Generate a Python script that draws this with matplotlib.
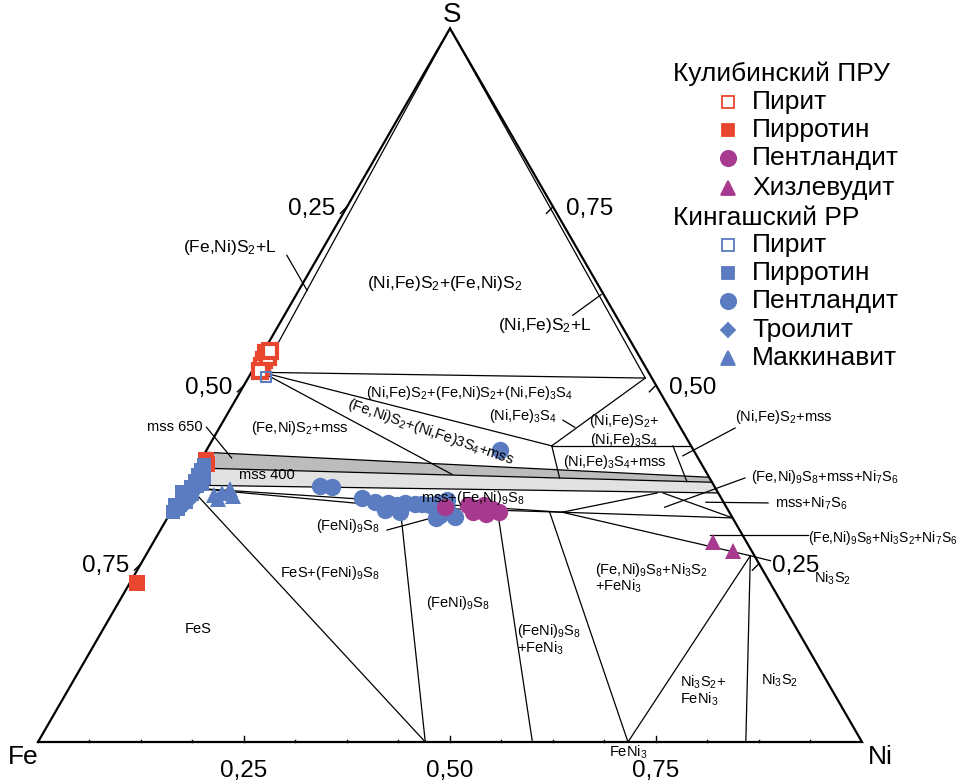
import matplotlib
matplotlib.use("Agg")
import matplotlib.pyplot as plt
import numpy as np

plt.rcParams['font.family'] = ['Liberation Sans', 'DejaVu Sans']
plt.rcParams['mathtext.default'] = 'regular'

H = np.sqrt(3) / 2

# phase boundaries: (Ni fractions, S fractions)
s2_left = ([0.013, 0.0], [0.518, 1.0])
s2_right = ([0.482, 0.0], [0.510, 1.0])
s2_tie = ([0.013, 0.482], [0.518, 0.510])
s2_vio = ([0.013, 0.416], [0.518, 0.415])
s2_mss = ([0.013, 0.315], [0.518, 0.375])
vio_ni = ([0.416, 0.482], [0.415, 0.510])
vio_edge = ([0.416, 0.585], [0.415, 0.415])
vio_mss = ([0.416, 0.448], [0.415, 0.370])
nis2_mss = ([0.563, 0.605], [0.415, 0.365])
fes_pn = ([0.007, 0.470], [0.356, 0.0])
pn_low = ([0.007, 0.275, 0.475], [0.356, 0.329, 0.322])
pn_up = ([0.007, 0.475], [0.356, 0.322])
pn_a = ([0.275, 0.470], [0.329, 0.0])
pn_b = ([0.395, 0.600], [0.325, 0.0])
pn_c = ([0.460, 0.716], [0.322, 0.0])
hz_a = ([0.716, 0.734], [0.0, 0.261])
hz_b = ([0.734, 0.859], [0.261, 0.0])
pn_hz = ([0.475, 0.734, 0.762], [0.322, 0.261, 0.254])
pn_edge = ([0.475, 0.686], [0.322, 0.314])
pn_mss = ([0.475, 0.577], [0.322, 0.349])
mss_ni7 = ([0.584, 0.686], [0.349, 0.314])

# mss fields
mss650_top = ([0.0, 0.629], [0.406, 0.371])
mss400_top = ([0.0, 0.636], [0.384, 0.364])
mss_bottom = ([0.0, 0.651], [0.360, 0.349])

# Кулибинский ПРУ
kul_py_ni = [0.004, 0.007, 0.008, 0.009, 0.008, 0.010]
kul_py_s = [0.545, 0.535, 0.527, 0.540, 0.548, 0.520]
kul_po_ni = [0.006, 0.010, 0.009]
kul_po_s = [0.395, 0.390, 0.223]
kul_pn_ni = [0.329, 0.356, 0.368, 0.375, 0.388, 0.398, 0.384, 0.367]
kul_pn_s = [0.329, 0.332, 0.328, 0.332, 0.327, 0.322, 0.320, 0.322]
kul_hz_ni = [0.679, 0.710]
kul_hz_s = [0.280, 0.268]

# Кингашский РР
kin_py_ni = [0.021]
kin_py_s = [0.512]
kin_po_ni = [0.006, 0.007, 0.008, 0.007, 0.008, 0.007, 0.007, 0.007, 0.006, 0.012, 0.013, 0.014,
	0.000, 0.000, 0.016, 0.018, 0.003, 0.010]
kin_po_s = [0.332, 0.341, 0.349, 0.357, 0.366, 0.374, 0.381, 0.388, 0.327, 0.336, 0.348, 0.359,
	0.332, 0.350, 0.370, 0.362, 0.322, 0.378]
kin_pn_ni = [0.163, 0.178, 0.222, 0.241, 0.257, 0.270, 0.278, 0.290, 0.299, 0.310, 0.318,
	0.259, 0.278, 0.329, 0.336, 0.348, 0.326, 0.356, 0.327]
kin_pn_s = [0.359, 0.357, 0.342, 0.336, 0.335, 0.332, 0.335, 0.334, 0.334, 0.332, 0.335,
	0.325, 0.322, 0.318, 0.324, 0.315, 0.314, 0.409, 0.339]
kin_tr_ni = [0.015, 0.015, 0.011]
kin_tr_s = [0.339, 0.353, 0.329]
kin_mk_ni = [0.041, 0.049, 0.056, 0.064, 0.048]
kin_mk_s = [0.346, 0.349, 0.355, 0.345, 0.341]

RED = '#e8462e'
PINK = '#a7398f'
BLUE = '#5b7cc0'


def tern(ni, s):
	ni = np.asarray(ni, dtype=float)
	s = np.asarray(s, dtype=float)
	return ni + s / 2, s * H


def main():
	fig = plt.figure(figsize=(9.65, 7.83), dpi=100)
	ax = fig.add_axes([0, 0, 1, 1])
	ax.set_xlim(-38 / 824, 927 / 824)
	ax.set_ylim(-41 / 824, 742 / 824)
	ax.axis('off')

	# mss bands
	for top, col in [(mss650_top, '#bcbcbc'), (mss400_top, '#e2e2e2')]:
		ni = list(top[0]) + list(mss_bottom[0])[::-1]
		s = list(top[1]) + list(mss_bottom[1])[::-1]
		x, y = tern(ni, s)
		ax.fill(x, y, color=col, lw=0, zorder=1)
	for line in [mss650_top, mss400_top, mss_bottom]:
		x, y = tern(*line)
		ax.plot(x, y, color='black', lw=0.9, zorder=2)

	lines = [s2_left, s2_right, s2_tie, s2_vio, s2_mss, vio_ni, vio_edge, vio_mss, nis2_mss,
		fes_pn, pn_low, pn_up, pn_a, pn_b, pn_c, hz_a, hz_b, pn_hz, pn_edge, pn_mss, mss_ni7]
	for line in lines:
		x, y = tern(*line)
		ax.plot(x, y, color='black', lw=0.9, zorder=2)

	# triangle frame
	x, y = tern([0, 1, 0, 0], [0, 0, 1, 0])
	ax.plot(x, y, color='black', lw=1.6, zorder=2, solid_joinstyle='miter')

	# ticks
	for k in range(1, 16):
		f = k / 16
		ln = 0.007 if k % 4 == 0 else 0.003
		ax.plot([f, f], [0, ln], color='black', lw=1, zorder=2)
	for s in [0.25, 0.5, 0.75]:
		xl, yl = tern(0, s)
		ax.plot([xl - 0.008, xl], [yl - 0.008, yl], color='black', lw=1, zorder=2)
		ax.text(xl - 0.043, yl - 0.003, ('%.2f' % (1 - s)).replace('.', ','), fontsize=17.5,
			ha='center', va='center')
		xr, yr = tern(1 - s, s)
		ax.plot([xr - 0.008, xr], [yr - 0.008, yr], color='black', lw=1, zorder=2)
		ax.text(xr + 0.045, yr - 0.003, ('%.2f' % s).replace('.', ','), fontsize=17.5,
			ha='center', va='center')
		ax.text(s, -0.035, ('%.2f' % s).replace('.', ','), fontsize=17.5, ha='center', va='center')

	ax.text(0.5024, 0.882, 'S', fontsize=20, ha='center', va='center')
	ax.text(-0.018, -0.018, 'Fe', fontsize=19, ha='center', va='center')
	ax.text(1.022, -0.018, 'Ni', fontsize=19, ha='center', va='center')

	# markers
	ms = dict(linestyle='none', zorder=3)
	x, y = tern(kul_py_ni, kul_py_s)
	ax.plot(x, y, marker='s', ms=10, mfc='white', mec=RED, mew=3, **ms)
	x, y = tern(kin_py_ni, kin_py_s)
	ax.plot(x, y, marker='s', ms=7, mfc='none', mec=BLUE, mew=1.5, **ms)
	x, y = tern(kin_po_ni, kin_po_s)
	ax.plot(x, y, marker='s', ms=10, color=BLUE, mew=0, **ms)
	x, y = tern(kin_tr_ni, kin_tr_s)
	ax.plot(x, y, marker='D', ms=8, color=BLUE, mew=0, **ms)
	x, y = tern(kul_po_ni, kul_po_s)
	ax.plot(x, y, marker='s', ms=11, color=RED, mew=0, zorder=2.9, linestyle='none')
	x, y = tern(kin_mk_ni, kin_mk_s)
	ax.plot(x, y, marker='^', ms=11, color=BLUE, mew=0, **ms)
	x, y = tern(kin_pn_ni, kin_pn_s)
	ax.plot(x, y, marker='o', ms=12.5, color=BLUE, mew=0, **ms)
	x, y = tern(kul_pn_ni, kul_pn_s)
	ax.plot(x, y, marker='o', ms=12.5, color=PINK, mew=0, **ms)
	x, y = tern(kul_hz_ni, kul_hz_s)
	ax.plot(x, y, marker='^', ms=11, color=PINK, mew=0, **ms)

	# leader lines (Ni, S) -> (Ni, S)
	leaders = [((-0.039, 0.682), (0.010, 0.633)),
		((0.350, 0.598), (0.370, 0.627)),
		((0.4115, 0.451), (0.431, 0.441)),
		((0.626, 0.440), (0.582, 0.401)),
		((0.673, 0.370), (0.596, 0.329)),
		((0.6425, 0.336), (0.7185, 0.335)),
		((0.6705, 0.290), (0.7894, 0.290)),
		((-0.016, 0.441), (0.036, 0.398)),
		((0.275, 0.297), (0.3425, 0.322))]
	for a, b in leaders:
		x, y = tern([a[0], b[0]], [a[1], b[1]])
		ax.plot(x, y, color='black', lw=0.9, zorder=2)

	# field labels
	big = [(0.494, 0.557, r'(Ni,Fe)S$_2$+(Fe,Ni)S$_2$'),
		(0.233, 0.600, r'(Fe,Ni)S$_2$+L'),
		(0.615, 0.506, r'(Ni,Fe)S$_2$+L')]
	for u, v, t in big:
		ax.text(u, v, t, fontsize=12.5, ha='center', va='center', zorder=4)
	small = [(0.524, 0.4235, r'(Ni,Fe)S$_2$+(Fe,Ni)S$_2$+(Ni,Fe)$_3$S$_4$'),
		(0.318, 0.381, r'(Fe,Ni)S$_2$+mss'),
		(0.5886, 0.3956, r'(Ni,Fe)$_3$S$_4$'),
		(0.711, 0.390, r'(Ni,Fe)S$_2$+'),
		(0.711, 0.366, r'(Ni,Fe)$_3$S$_4$'),
		(0.700, 0.340, r'(Ni,Fe)$_3$S$_4$+mss'),
		(0.905, 0.394, r'(Ni,Fe)S$_2$+mss'),
		(0.955, 0.322, r'(Fe,Ni)$_9$S$_8$+mss+Ni$_7$S$_6$'),
		(0.939, 0.290, r'mss+Ni$_7$S$_6$'),
		(0.964, 0.199, r'Ni$_3$S$_2$'),
		(0.166, 0.382, 'mss 650'),
		(0.278, 0.324, 'mss 400'),
		(0.528, 0.296, r'mss+(Fe,Ni)$_9$S$_8$'),
		(0.376, 0.262, r'(FeNi)$_9$S$_8$'),
		(0.354, 0.205, r'FeS+(FeNi)$_9$S$_8$'),
		(0.195, 0.137, 'FeS'),
		(0.510, 0.169, r'(FeNi)$_9$S$_8$'),
		(0.900, 0.075, r'Ni$_3$S$_2$'),
		(0.716, -0.012, r'FeNi$_3$')]
	for u, v, t in small:
		ax.text(u, v, t, fontsize=10.5, ha='center', va='center', zorder=4)
	left = [(0.581, 0.135, r'(FeNi)$_9$S$_8$'),
		(0.581, 0.114, r'+FeNi$_3$'),
		(0.676, 0.209, r'(Fe,Ni)$_9$S$_8$+Ni$_3$S$_2$'),
		(0.676, 0.189, r'+FeNi$_3$'),
		(0.779, 0.073, r'Ni$_3$S$_2$+'),
		(0.779, 0.052, r'FeNi$_3$')]
	for u, v, t in left:
		ax.text(u, v, t, fontsize=10.5, ha='left', va='center', zorder=4)
	ax.text(0.935, 0.2476, r'(Fe,Ni)$_9$S$_8$+Ni$_3$S$_2$+Ni$_7$S$_6$', fontsize=10,
		ha='left', va='center', zorder=4)
	ax.text(0.477, 0.376, r'(Fe,Ni)S$_2$+(Ni,Fe)3S$_4$+mss', fontsize=10.5, ha='center',
		va='center', rotation=-19, rotation_mode='anchor', zorder=4)

	# legend
	hx, mx, tx = 0.7706, 0.8374, 0.8665
	ax.text(hx, 0.8107, 'Кулибинский ПРУ', fontsize=19, ha='left', va='center')
	ax.text(hx, 0.6359, 'Кингашский РР', fontsize=19, ha='left', va='center')
	rows = [(0.7767, 's', 'white', RED, 'Пирит'),
		(0.7427, 's', RED, RED, 'Пирротин'),
		(0.7087, 'o', PINK, PINK, 'Пентландит'),
		(0.6723, '^', PINK, PINK, 'Хизлевудит'),
		(0.6032, 's', 'white', BLUE, 'Пирит'),
		(0.5692, 's', BLUE, BLUE, 'Пирротин'),
		(0.5352, 'o', BLUE, BLUE, 'Пентландит'),
		(0.5000, 'D', BLUE, BLUE, 'Троилит'),
		(0.4660, '^', BLUE, BLUE, 'Маккинавит')]
	for v, m, fc, ec, t in rows:
		size = {'s': 9, 'o': 11, '^': 10, 'D': 7}[m]
		ax.plot([mx], [v], marker=m, ms=size, mfc=fc, mec=ec, mew=1.3, linestyle='none')
		ax.text(tx, v, t, fontsize=19, ha='left', va='center')

	fig.savefig('out.png', dpi=100)


if __name__ == "__main__":
	main()
